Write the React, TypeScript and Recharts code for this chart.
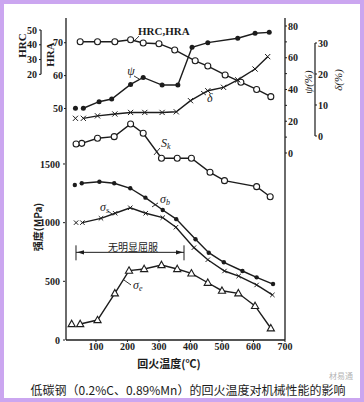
import React from "react";
import { ComposedChart, Line, XAxis, YAxis, ReferenceLine } from "recharts";

const INK = "#1c1c1c";
const SERIF = "'Liberation Serif', 'DejaVu Serif', serif";
const CJK = "'Noto Sans CJK SC', sans-serif";

// axis ticks
const tempTicks = [100, 200, 300, 400, 500, 600, 700];
const mpaTicks = [0, 500, 1000, 1500];
const hraTicks = [50, 60, 70];
const hrcTicks = [20, 30, 40, 50];
const psiTicks = [0, 10, 20, 30, 40, 50, 60, 70, 80];
const deltaTicks = [0, 10, 20, 30];

// HRA hardness
const hraT = [50, 105, 160, 210, 250, 300, 350, 415, 455, 510, 560, 610, 655];
const hraV = [70.3, 70.3, 70.3, 70.9, 69.9, 69.7, 67.8, 64.5, 62.9, 60.2, 58.0, 55.8, 53.6];

// psi (%), reduction of area; Q = as-quenched point
const psiT = [60, 110, 150, 210, 250, 310, 360, 405, 455, 550, 605, 650];
const psiV = [28.2, 32.3, 34.0, 43.2, 47.6, 42.8, 42.8, 66.6, 69.5, 72.3, 75.4, 76.0];
const psiQ = [35, 28.2];

// delta (%), elongation
const deltaT = [60, 105, 160, 210, 255, 310, 355, 400, 455, 505, 550, 605, 645];
const deltaV = [5.7, 6.5, 7.1, 7.6, 7.6, 7.6, 7.8, 11.4, 14.6, 15.7, 18.1, 21.6, 25.6];
const deltaQ = [35, 5.7];

// Sk (MPa)
const skT = [55, 105, 158, 210, 250, 308, 358, 403, 462, 508, 610, 653];
const skV = [1676, 1719, 1733, 1841, 1762, 1549, 1549, 1549, 1429, 1358, 1307, 1221];
const skQ = [37, 1670];

// sigma b (MPa)
const sbT = [55, 111, 158, 209, 257, 312, 355, 416, 458, 506, 565, 610, 662];
const sbV = [1336, 1349, 1336, 1293, 1213, 1108, 1030, 858, 744, 662, 588, 534, 477];
const sbQ = [33, 1321];

// sigma s (MPa)
const ssT = [57, 116, 161, 209, 258, 312, 354, 411, 455, 508, 553, 610, 660];
const ssV = [1000, 1037, 1080, 1127, 1080, 1043, 961, 787, 684, 588, 545, 469, 384];
const ssQ = [37, 1000];

// sigma e (MPa)
const seT = [50, 105, 160, 205, 253, 308, 358, 403, 455, 500, 552, 605, 655];
const seV = [136, 170, 398, 591, 605, 639, 605, 568, 488, 420, 398, 290, 100];
const seQ = [23, 136];

const zip = (t: number[], v: number[]) => t.map((x, i) => ({ t: x, v: v[i] }));

const ringDot = (p: any) => (
  <circle key={`r${p.index}`} cx={p.cx} cy={p.cy} r={3} fill="#fff" stroke={INK} strokeWidth={1.1} />
);
const solidDot = (r: number) => (p: any) => (
  <circle key={`s${p.index}`} cx={p.cx} cy={p.cy} r={r} fill={INK} />
);
const crossDot = (s: number) => (p: any) => (
  <path
    key={`c${p.index}`}
    d={`M${p.cx - s},${p.cy - s}L${p.cx + s},${p.cy + s}M${p.cx - s},${p.cy + s}L${p.cx + s},${p.cy - s}`}
    stroke={INK}
    strokeWidth={1}
  />
);
const triDot = (p: any) => (
  <path
    key={`t${p.index}`}
    d={`M${p.cx},${p.cy - 3.8}L${p.cx + 3.6},${p.cy + 2.6}L${p.cx - 3.6},${p.cy + 2.6}Z`}
    fill="#fff"
    stroke={INK}
    strokeWidth={1.1}
  />
);

// axis ids sort the same alphabetically and by declaration, so the stacking order is fixed
const AX = { hra: "a_hra", mpa: "b_mpa", hrc: "c_hrc", psi: "a_psi", delta: "b_delta" };

const series = [
  { id: "hra", axis: AX.hra, data: zip(hraT, hraV), q: null, dot: ringDot },
  { id: "psi", axis: AX.psi, data: zip(psiT, psiV), q: psiQ, dot: solidDot(2.5) },
  { id: "delta", axis: AX.delta, data: zip(deltaT, deltaV), q: deltaQ, dot: crossDot(2.6) },
  { id: "sk", axis: AX.mpa, data: zip(skT, skV), q: skQ, dot: ringDot },
  { id: "sb", axis: AX.mpa, data: zip(sbT, sbV), q: sbQ, dot: solidDot(2.2) },
  { id: "ss", axis: AX.mpa, data: zip(ssT, ssV), q: ssQ, dot: crossDot(2.2) },
  { id: "se", axis: AX.mpa, data: zip(seT, seV), q: seQ, dot: triDot },
];

const sub = (main: string, s: string) => (
  <>
    <tspan>{main}</tspan>
    <tspan fontSize={8} dy={2}>{s}</tspan>
  </>
);

const notes = [
  { axis: AX.hra, from: [236.7, 72.0], to: [220.8, 70.5], text: "HRC,HRA", dx: -1, dy: -1, anchor: "start", italic: false },
  { axis: AX.hra, from: [220.8, 59.9], to: [236.7, 59.0], text: "ψ", dx: -3, dy: -1, anchor: "middle", italic: true },
  { axis: AX.hra, from: [449, 54.1], to: [433.4, 55.3], text: "δ", dx: 4, dy: 7, anchor: "middle", italic: true },
  { axis: AX.mpa, from: [303.3, 1636], to: [284.3, 1577], text: sub("S", "k"), dx: 1, dy: -1, anchor: "start", italic: true },
  { axis: AX.mpa, from: [297, 1168], to: [278, 1134], text: sub("σ", "b"), dx: 2, dy: 0, anchor: "start", italic: true },
  { axis: AX.mpa, from: [138.3, 1099], to: [151, 1074], text: sub("σ", "s"), dx: 1, dy: 0, anchor: "end", italic: true },
  { axis: AX.mpa, from: [211.3, 469], to: [189, 511], text: sub("σ", "e"), dx: 2, dy: 4, anchor: "start", italic: true },
];

const calloutShape = (n: (typeof notes)[number]) => (p: any) => (
  <g>
    <line x1={p.x1} y1={p.y1} x2={p.x2} y2={p.y2} stroke={INK} strokeWidth={0.9} />
    <text
      x={p.x1 + n.dx}
      y={p.y1 + n.dy}
      textAnchor={n.anchor}
      fontFamily={SERIF}
      fontStyle={n.italic ? "italic" : "normal"}
      fontWeight={n.italic ? 400 : 700}
      fontSize={n.italic ? 12 : 11}
      fill={INK}
    >
      {n.text}
    </text>
  </g>
);

const bracketShape = (p: any) => {
  const { x1, y1, x2 } = p;
  return (
    <g stroke={INK} strokeWidth={1} fill={INK}>
      <line x1={x1} y1={y1} x2={x2} y2={y1} />
      <line x1={x1} y1={y1 - 7} x2={x1} y2={y1 + 8} />
      <line x1={x2} y1={y1 - 7} x2={x2} y2={y1 + 8} />
      <path d={`M${x1 + 1},${y1}L${x1 + 8},${y1 - 2.2}L${x1 + 8},${y1 + 2.2}Z`} stroke="none" />
      <path d={`M${x2 - 1},${y1}L${x2 - 8},${y1 - 2.2}L${x2 - 8},${y1 + 2.2}Z`} stroke="none" />
      <text
        x={(x1 + x2) / 2 + 3}
        y={y1 - 6}
        textAnchor="middle"
        dominantBaseline="central"
        fontFamily={CJK}
        fontSize={10}
        stroke="none"
      >
        无明显屈服
      </text>
    </g>
  );
};

const tickStyle = { fontFamily: SERIF, fontSize: 10, fontWeight: 700, fill: INK };

export default function App() {
  return (
    <div
      style={{
        position: "absolute",
        left: 0,
        top: 0,
        width: 364,
        height: 402,
        background: "#fff",
        boxShadow: "inset 0 0 0 4px #cba6f0",
      }}
    >
      <ComposedChart width={364} height={402} margin={{ top: 18, right: 19, bottom: 42, left: 16 }}>
        <XAxis
          dataKey="t"
          type="number"
          domain={[5, 700]}
          ticks={tempTicks}
          interval={0}
          allowDataOverflow
          height={20}
          tick={tickStyle}
          tickSize={2}
          tickMargin={1}
          axisLine={{ stroke: INK, strokeWidth: 1.3 }}
          tickLine={{ stroke: INK }}
        />
        <XAxis
          xAxisId="top"
          orientation="top"
          type="number"
          domain={[5, 700]}
          height={0}
          tick={false}
          tickLine={false}
          axisLine={{ stroke: INK, strokeWidth: 1.3 }}
        />
        <YAxis
          yAxisId={AX.hra}
          width={1}
          type="number"
          domain={[-20.36, 77.51]}
          ticks={hraTicks}
          interval={0}
          allowDataOverflow
          axisLine={{ stroke: INK, strokeWidth: 1.3 }}
          tick={tickStyle}
          tickSize={2}
          tickMargin={1}
          tickLine={{ stroke: INK }}
        />
        <YAxis
          yAxisId={AX.mpa}
          width={24}
          type="number"
          domain={[0, 2744]}
          ticks={mpaTicks}
          interval={0}
          allowDataOverflow
          axisLine={false}
          tick={tickStyle}
          tickSize={2}
          tickMargin={3}
          tickLine={{ stroke: INK }}
        />
        <YAxis
          yAxisId={AX.hrc}
          width={25}
          type="number"
          domain={[-159.9, 58.13]}
          ticks={hrcTicks}
          interval={0}
          allowDataOverflow
          axisLine={false}
          tick={tickStyle}
          tickSize={2}
          tickMargin={2}
          tickLine={{ stroke: INK }}
        />
        <YAxis
          yAxisId={AX.psi}
          orientation="right"
          width={30}
          type="number"
          domain={[-117.8, 85.04]}
          ticks={psiTicks}
          interval={0}
          allowDataOverflow
          tickFormatter={(v: number) => (v % 20 === 0 ? `${v}` : "")}
          axisLine={{ stroke: INK, strokeWidth: 1.3 }}
          tick={tickStyle}
          tickSize={2}
          tickMargin={1}
          tickLine={{ stroke: INK }}
        />
        <YAxis
          yAxisId={AX.delta}
          orientation="right"
          width={30}
          type="number"
          domain={[-65.8, 38.06]}
          ticks={deltaTicks}
          interval={0}
          allowDataOverflow
          axisLine={false}
          tick={tickStyle}
          tickSize={2}
          tickMargin={1}
          tickLine={{ stroke: INK }}
        />

        {/* short HRC and delta scale bars */}
        <ReferenceLine
          yAxisId={AX.hrc}
          ifOverflow="visible"
          segment={[{ x: -74.3, y: 20 }, { x: -74.3, y: 50 }]}
          stroke={INK}
          strokeWidth={1.2}
        />
        <ReferenceLine
          yAxisId={AX.delta}
          ifOverflow="visible"
          segment={[{ x: 795.2, y: 0 }, { x: 795.2, y: 30 }]}
          stroke={INK}
          strokeWidth={1.2}
        />

        {series.map((s) => (
          <Line
            key={s.id}
            data={s.data}
            yAxisId={s.axis}
            dataKey="v"
            type="linear"
            stroke={INK}
            strokeWidth={1.4}
            dot={s.dot}
            activeDot={false}
            isAnimationActive={false}
          />
        ))}
        {series
          .filter((s) => s.q)
          .map((s) => (
            <Line
              key={`${s.id}-q`}
              data={[{ t: s.q![0], v: s.q![1] }]}
              yAxisId={s.axis}
              dataKey="v"
              stroke="none"
              dot={s.dot}
              activeDot={false}
              isAnimationActive={false}
            />
          ))}

        {notes.map((n, i) => (
          <ReferenceLine
            key={`n${i}`}
            yAxisId={n.axis}
            ifOverflow="visible"
            segment={[{ x: n.from[0], y: n.from[1] }, { x: n.to[0], y: n.to[1] }]}
            shape={calloutShape(n)}
          />
        ))}
        <ReferenceLine
          yAxisId={AX.mpa}
          ifOverflow="visible"
          segment={[{ x: 36.7, y: 747 }, { x: 379.5, y: 747 }]}
          shape={bracketShape}
        />

        {/* axis titles */}
        <g fill={INK}>
          <text x={22} y={45.5} transform="rotate(-90 22 45.5)" textAnchor="middle" dominantBaseline="central" fontFamily={SERIF} fontWeight={700} fontSize={11}>HRC</text>
          <text x={50} y={54.5} transform="rotate(-90 50 54.5)" textAnchor="middle" dominantBaseline="central" fontFamily={SERIF} fontWeight={700} fontSize={11}>HRA</text>
          <text x={37} y={227} transform="rotate(-90 37 227)" textAnchor="middle" dominantBaseline="central" fontFamily={CJK} fontWeight={700} fontSize={10}>强度(MPa)</text>
          <text x={308} y={82} transform="rotate(-90 308 82)" textAnchor="middle" dominantBaseline="central" fontFamily={SERIF} fontStyle="italic" fontSize={11}>ψ(%)</text>
          <text x={338} y={80} transform="rotate(-90 338 80)" textAnchor="middle" dominantBaseline="central" fontFamily={SERIF} fontStyle="italic" fontSize={11}>δ(%)</text>
          <text x={169} y={363} textAnchor="middle" dominantBaseline="central" fontFamily={CJK} fontWeight={700} fontSize={11}>回火温度(℃)</text>
          <text x={188} y={389} textAnchor="middle" dominantBaseline="central" fontFamily={CJK} fontSize={12}>低碳钢（0.2%C、0.89%Mn）的回火温度对机械性能的影响</text>
          <text x={341} y={375} textAnchor="middle" dominantBaseline="central" fontFamily={CJK} fontSize={8} fill="#b5b5b5">材易通</text>
        </g>
      </ComposedChart>
    </div>
  );
}
